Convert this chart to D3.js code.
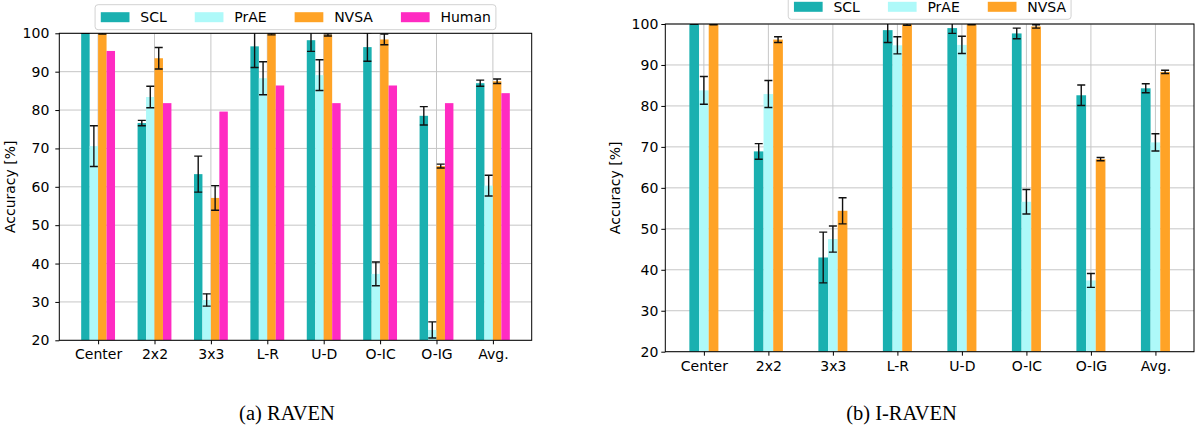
<!DOCTYPE html>
<html><head><meta charset="utf-8">
<script src="https://cdn.jsdelivr.net/npm/d3@7"></script>
<style>
body{margin:0;background:#fff;}
svg text{font-family:"DejaVu Sans",sans-serif;fill:#000;}
</style></head>
<body><svg id="c" width="1196" height="430"></svg>
<script>
const categories = ["Center","2x2","3x3","L-R","U-D","O-IC","O-IG","Avg."];
const yTicks = [20,30,40,50,60,70,80,90,100];

const ravenSeries = ["SCL","PrAE","NVSA","Human"];
const ravenSCL = [100, 76.6, 63.3, 96.6, 98.2, 96.4, 78.5, 87.0];
const ravenSCLErr = [0, 0.7, 4.7, 5.5, 2.9, 3.7, 2.4, 0.8];
const ravenPrAE = [70.6, 83.4, 30.5, 88.3, 89.1, 37.3, 22.7, 60.3];
const ravenPrAEErr = [5.3, 2.8, 1.6, 4.3, 4.0, 3.1, 2.1, 2.7];
const ravenNVSA = [100, 93.5, 57.1, 99.8, 99.6, 98.4, 65.4, 87.5];
const ravenNVSAErr = [0.2, 2.8, 3.2, 0.2, 0.3, 1.4, 0.5, 0.6];
const ravenHuman = [95.4, 81.8, 79.6, 86.4, 81.8, 86.4, 81.8, 84.4];

const iravenSeries = ["SCL","PrAE","NVSA"];
const iravenSCL = [100, 68.9, 43.0, 98.5, 99.0, 97.7, 82.6, 84.3];
const iravenSCLErr = [0, 1.9, 6.2, 3.0, 1.3, 1.3, 2.5, 1.1];
const iravenPrAE = [83.8, 82.9, 47.5, 94.8, 94.9, 56.6, 37.4, 71.1];
const iravenPrAEErr = [3.4, 3.3, 3.2, 2.1, 2.1, 3.0, 1.7, 2.1];
const iravenNVSA = [99.9, 96.2, 54.4, 99.9, 99.9, 99.4, 67.0, 88.3];
const iravenNVSAErr = [0.1, 0.7, 3.2, 0.2, 0.1, 0.4, 0.4, 0.4];

const colors = {SCL:"#1ab0b0", PrAE:"#aef9f9", NVSA:"#ffa326", Human:"#ff2bc2"};

const svg = d3.select("#c");
svg.append("rect").attr("width",1196).attr("height",430).attr("fill","#fff");

function drawChart(cfg){
  const {id,x0,x1,y0,y1,pad,series,values,errs,legendY,ylabelX,tickGap,caption,captionX} = cfg;
  const g = svg.append("g");
  const x = d3.scalePoint().domain(categories).range([x0,x1]).padding(pad);
  const y = d3.scaleLinear().domain([20,100]).range([y1,y0]);
  const step = x.step();
  const bw = step*0.15;
  const n = series.length;

  // grid
  g.append("g").selectAll("line").data(yTicks).join("line")
    .attr("x1",x0).attr("x2",x1).attr("y1",d=>y(d)).attr("y2",d=>y(d))
    .attr("stroke","#c6c6c6").attr("stroke-width",1);
  g.append("g").selectAll("line").data(categories).join("line")
    .attr("x1",d=>x(d)).attr("x2",d=>x(d)).attr("y1",y0).attr("y2",y1)
    .attr("stroke","#c6c6c6").attr("stroke-width",1);

  const clipId = "clip"+id;
  svg.append("clipPath").attr("id",clipId).append("rect")
    .attr("x",x0).attr("y",y0).attr("width",x1-x0).attr("height",y1-y0);
  const marks = g.append("g").attr("clip-path",`url(#${clipId})`);

  series.forEach((s,si)=>{
    const off = (si-(n-1)/2)*bw;
    const data = categories.map((c,i)=>({c,v:values[si][i],e:errs[si]?errs[si][i]:null}));
    marks.append("g").selectAll("rect").data(data).join("rect")
      .attr("x",d=>x(d.c)+off-bw/2).attr("width",bw)
      .attr("y",d=>y(d.v)).attr("height",d=>y(20)-y(d.v))
      .attr("fill",colors[s]);
  });
  series.forEach((s,si)=>{
    if(!errs[si]) return;
    const off = (si-(n-1)/2)*bw;
    const data = categories.map((c,i)=>({c,v:values[si][i],e:errs[si][i]}));
    const eg = marks.append("g").attr("stroke","#111").attr("stroke-width",1.4);
    eg.selectAll("line.v").data(data).join("line").attr("class","v")
      .attr("x1",d=>x(d.c)+off).attr("x2",d=>x(d.c)+off)
      .attr("y1",d=>y(d.v+d.e)).attr("y2",d=>y(d.v-d.e));
    eg.selectAll("line.t").data(data).join("line").attr("class","t")
      .attr("x1",d=>x(d.c)+off-4).attr("x2",d=>x(d.c)+off+4)
      .attr("y1",d=>y(d.v+d.e)).attr("y2",d=>y(d.v+d.e));
    eg.selectAll("line.b").data(data).join("line").attr("class","b")
      .attr("x1",d=>x(d.c)+off-4).attr("x2",d=>x(d.c)+off+4)
      .attr("y1",d=>y(d.v-d.e)).attr("y2",d=>y(d.v-d.e));
  });

  // axes
  const ax = g.append("g").attr("transform",`translate(0,${y1})`)
    .call(d3.axisBottom(x).tickSize(4).tickPadding(5));
  ax.select(".domain").remove();
  ax.selectAll("text").attr("font-size",14).attr("font-family","DejaVu Sans");
  ax.selectAll("line").attr("stroke","#000");
  const ay = g.append("g").attr("transform",`translate(${x0},0)`)
    .call(d3.axisLeft(y).tickValues(yTicks).tickSize(4).tickPadding(tickGap));
  ay.select(".domain").remove();
  ay.selectAll("text").attr("font-size",14).attr("font-family","DejaVu Sans");
  ay.selectAll("line").attr("stroke","#000");

  g.append("rect").attr("x",x0).attr("y",y0).attr("width",x1-x0).attr("height",y1-y0)
    .attr("fill","none").attr("stroke","#000").attr("stroke-width",1);

  g.append("text").attr("transform",`translate(${ylabelX},${(y0+y1)/2}) rotate(-90)`)
    .attr("text-anchor","middle").attr("dominant-baseline","central")
    .attr("font-size",14).text("Accuracy [%]");

  // legend
  const lg = g.append("g");
  const box = lg.append("rect").attr("rx",3).attr("fill","#fff").attr("fill-opacity",0.85)
    .attr("stroke","#d2d2d2").attr("stroke-width",1);
  let cx = 0;
  const items = [];
  series.forEach(s=>{
    const r = lg.append("rect").attr("x",cx).attr("y",legendY-5).attr("width",28.7).attr("height",10).attr("fill",colors[s]);
    const t = lg.append("text").attr("x",cx+39.5).attr("y",legendY+5).attr("font-size",14).text(s);
    const w = t.node().getComputedTextLength();
    items.push(cx+39.5+w);
    cx = cx+39.5+w+28;
  });
  const lw = items[items.length-1] + 5 + 5.7;
  const lx = (x0+x1)/2 - lw/2 + 5.7;
  lg.attr("transform",`translate(${lx},0)`);
  box.attr("x",-5.7).attr("y",legendY-12.5).attr("width",lw).attr("height",25);

  svg.append("text").attr("x",captionX).attr("y",420).attr("text-anchor","middle")
    .style("font-family","'Liberation Serif','Times New Roman',serif").attr("font-size",20.5)
    .text(caption);
}

drawChart({id:"a",x0:59.3,x1:531.7,y0:33.3,y1:340.3,pad:0.688,
  series:ravenSeries,
  values:[ravenSCL,ravenPrAE,ravenNVSA,ravenHuman],
  errs:[ravenSCLErr,ravenPrAEErr,ravenNVSAErr,null],
  legendY:17.2,ylabelX:9.5,tickGap:6,caption:"(a) RAVEN",captionX:287});

drawChart({id:"b",x0:665.3,x1:1194,y0:24,y1:351.7,pad:0.598,
  series:iravenSeries,
  values:[iravenSCL,iravenPrAE,iravenNVSA],
  errs:[iravenSCLErr,iravenPrAEErr,iravenNVSAErr],
  legendY:6.8,ylabelX:615,tickGap:3,caption:"(b) I-RAVEN",captionX:901.5});
</script>
</body></html>
